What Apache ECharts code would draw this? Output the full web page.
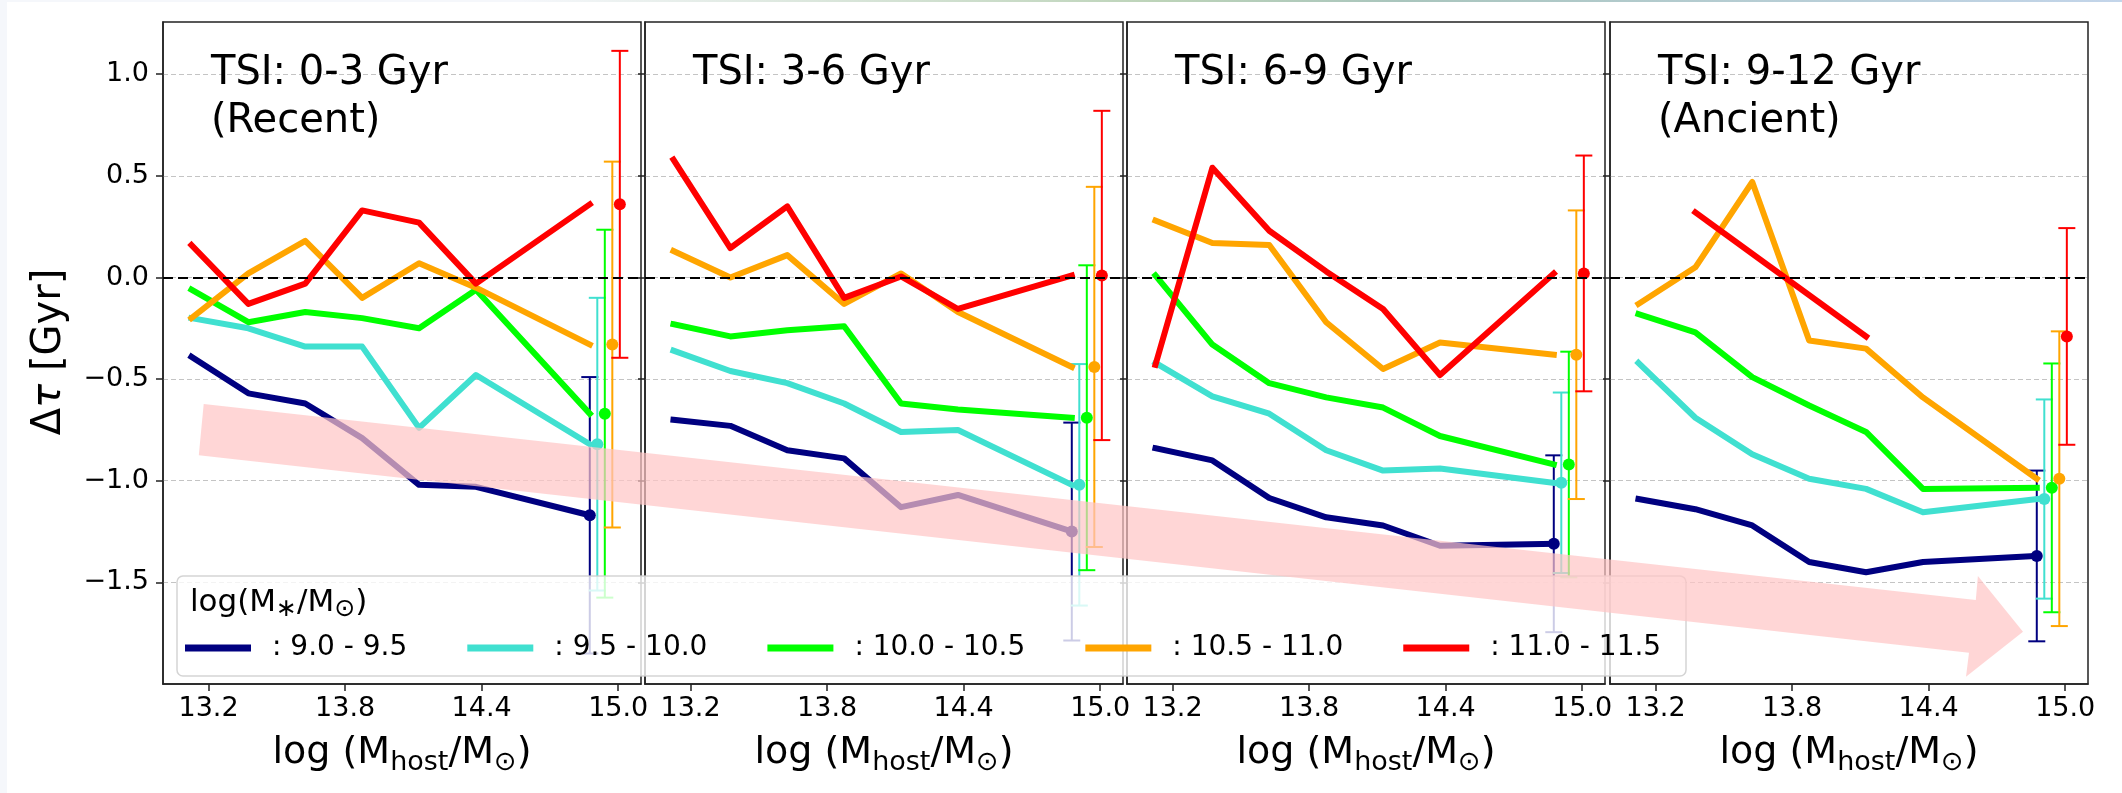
<!DOCTYPE html>
<html>
<head>
<meta charset="utf-8">
<script src="https://cdn.jsdelivr.net/npm/echarts@6/dist/echarts.min.js"></script>
<style>
  html, body { margin: 0; padding: 0; background: #f5f7fb; }
  #page { position: absolute; left: 7px; top: 2px; width: 2115px; height: 791px; background: #ffffff; }
  #topline { position: absolute; left: 520px; top: 0; width: 1602px; height: 2px;
    background: linear-gradient(to right, rgba(245,247,251,0), #bcd3b8 40%, #a9c5bd 55%, #c3d5ea 100%); }
  #chart { position: absolute; left: 0; top: 0; width: 2122px; height: 793px; }
</style>
</head>
<body>
<div id="page"></div>
<div id="topline"></div>
<div id="chart"></div>
<script>
// Host halo mass bin centres, log(M_host / M_sun)
const massBins = [13.125, 13.375, 13.625, 13.875, 14.125, 14.375, 14.875];
// Stellar mass bins (legend entries) and their colours
const stellarBins = [': 9.0 - 9.5', ': 9.5 - 10.0', ': 10.0 - 10.5', ': 10.5 - 11.0', ': 11.0 - 11.5'];
const binColors = ['#000080', '#40E0D0', '#00FF00', '#FFA500', '#FF0000'];
// Positions of the summary points with error bars (one per stellar bin)
const errX = [14.875, 14.908, 14.941, 14.974, 15.007];
// Tick values
const xTicks = [13.2, 13.8, 14.4, 15.0];
const yTicks = [-1.5, -1.0, -0.5, 0.0, 0.5, 1.0];
// Panel titles
const panelTitles = [['TSI: 0-3 Gyr', '(Recent)'], ['TSI: 3-6 Gyr'], ['TSI: 6-9 Gyr'], ['TSI: 9-12 Gyr', '(Ancient)']];

// Delta tau [Gyr] per stellar bin (rows) and host mass bin (columns)
const dtauRecent = [
  [-0.39, -0.57, -0.62, -0.79, -1.02, -1.03, -1.17],
  [-0.20, -0.25, -0.34, -0.34, -0.74, -0.48, -0.82],
  [-0.06, -0.22, -0.17, -0.20, -0.25, -0.06, -0.67],
  [-0.20, 0.02, 0.18, -0.10, 0.07, -0.05, -0.33],
  [0.16, -0.13, -0.03, 0.33, 0.27, -0.03, 0.36]
];
const dtauMid1 = [
  [-0.70, -0.73, -0.85, -0.89, -1.13, -1.07, -1.25],
  [-0.36, -0.46, -0.52, -0.62, -0.76, -0.75, -1.02],
  [-0.23, -0.29, -0.26, -0.24, -0.62, -0.65, -0.69],
  [0.13, 0.00, 0.11, -0.13, 0.02, -0.17, -0.44],
  [0.58, 0.145, 0.35, -0.10, 0.005, -0.155, 0.01]
];
const dtauMid2 = [
  [-0.84, -0.90, -1.085, -1.18, -1.22, -1.32, -1.31],
  [-0.42, -0.585, -0.67, -0.85, -0.95, -0.94, -1.01],
  [0.01, -0.33, -0.52, -0.59, -0.64, -0.78, -0.92],
  [0.28, 0.17, 0.16, -0.22, -0.45, -0.32, -0.38],
  [-0.43, 0.54, 0.23, 0.03, -0.155, -0.48, 0.02]
];
const dtauAncient = [
  [-1.09, -1.14, -1.22, -1.40, -1.45, -1.40, -1.37],
  [-0.42, -0.69, -0.87, -0.99, -1.04, -1.155, -1.09],
  [-0.18, -0.27, -0.49, -0.63, -0.76, -1.04, -1.035],
  [-0.13, 0.05, 0.47, -0.31, -0.35, -0.59, -0.99],
  [null, 0.32, null, null, -0.29, null, null]
];
// Half-widths of the error bars per stellar bin
const errRecent = [0.68, 0.72, 0.905, 0.90, 0.755];
const errMid1 = [0.536, 0.594, 0.75, 0.886, 0.81];
const errMid2 = [0.435, 0.444, 0.555, 0.71, 0.58];
const errAncient = [0.42, 0.49, 0.612, 0.725, 0.533];

const panelValues = [dtauRecent, dtauMid1, dtauMid2, dtauAncient];
const panelErrors = [errRecent, errMid1, errMid2, errAncient];

const FONT = 'DejaVu Sans';
const panelLeft = [163, 645, 1127, 1610];
const panelWidth = 478, panelTop = 22, panelHeight = 662;

const fmtY = v => (v < 0 ? '\u2212' : '') + Math.abs(v).toFixed(1);

function errorBarItem(params, api) {
  const x = api.value(0), y = api.value(1), e = api.value(2);
  const c = api.coord([x, y]);
  const top = api.coord([x, y + e]);
  const bot = api.coord([x, y - e]);
  const color = api.visual('color');
  const hw = 8.5;
  const st = { stroke: color, lineWidth: 2 };
  return {
    type: 'group',
    children: [
      { type: 'line', shape: { x1: c[0], y1: top[1], x2: c[0], y2: bot[1] }, style: st },
      { type: 'line', shape: { x1: c[0] - hw, y1: top[1], x2: c[0] + hw, y2: top[1] }, style: st },
      { type: 'line', shape: { x1: c[0] - hw, y1: bot[1], x2: c[0] + hw, y2: bot[1] }, style: st },
      { type: 'circle', shape: { cx: c[0], cy: c[1], r: 6 }, style: { fill: color } }
    ]
  };
}

const grids = [], xAxes = [], yAxes = [], series = [], graphics = [];

panelLeft.forEach((left, p) => {
  grids.push({ left: left, top: panelTop, width: panelWidth, height: panelHeight,
    show: true, borderColor: '#222', borderWidth: 1.5 });
  xAxes.push({
    type: 'value', gridIndex: p, min: 13.0, max: 15.1,
    axisLine: { show: true, onZero: false, lineStyle: { color: '#222', width: 1.5 } },
    splitLine: { show: false },
    axisTick: { show: true, customValues: xTicks, length: 7, lineStyle: { color: '#222', width: 1.5 } },
    axisLabel: { customValues: xTicks, formatter: v => v.toFixed(1), fontSize: 27,
      fontFamily: FONT, color: '#000', margin: 11 }
  });
  yAxes.push({
    type: 'value', gridIndex: p, min: -2.0, max: 1.257, interval: 0.5,
    axisLine: { show: true, onZero: false, lineStyle: { color: '#222', width: 1.5 } },
    axisTick: { show: true, customValues: yTicks, length: 7, lineStyle: { color: '#222', width: 1.5 } },
    axisLabel: { show: p === 0, customValues: yTicks, formatter: fmtY, fontSize: 27,
      fontFamily: FONT, color: '#000', margin: 14 },
    splitLine: { show: true, lineStyle: { color: '#c4c4c4', type: [5, 3], width: 1 } }
  });

  // zero reference line
  series.push({
    type: 'line', xAxisIndex: p, yAxisIndex: p, data: [], z: 1, silent: true,
    markLine: { silent: true, symbol: 'none', label: { show: false }, animation: false,
      lineStyle: { color: '#000', type: [10, 5], width: 2.2 }, data: [{ yAxis: 0 }] }
  });

  const vals = panelValues[p];
  const errs = panelErrors[p];
  stellarBins.forEach((name, k) => {
    const pts = [];
    massBins.forEach((x, i) => { if (vals[k][i] !== null) pts.push([x, vals[k][i]]); });
    series.push({
      type: 'line', name: name, xAxisIndex: p, yAxisIndex: p, data: pts,
      showSymbol: false, symbol: 'none', connectNulls: true, z: 3,
      itemStyle: { color: binColors[k] },
      lineStyle: { color: binColors[k], width: 6, cap: 'square', join: 'round' }
    });
    const last = pts[pts.length - 1][1];
    series.push({
      type: 'custom', name: name, xAxisIndex: p, yAxisIndex: p, z: 3,
      itemStyle: { color: binColors[k] },
      data: [[errX[k], last, errs[k]]],
      encode: { x: 0, y: 1 },
      renderItem: errorBarItem
    });
  });

  // panel title
  panelTitles[p].forEach((t, j) => {
    graphics.push({ type: 'text', x: left + 48, y: 74 + j * 47.3, z: 40,
      style: { text: t, font: '40px "' + FONT + '"', fill: '#000', align: 'left', verticalAlign: 'middle' } });
  });
  // x-axis title
  graphics.push({ type: 'text', x: left + panelWidth / 2, y: 753.6, z: 40,
    style: {
      text: 'log (M{s|host}/M{s|\u2299})',
      fontFamily: FONT, fontSize: 38, lineHeight: 46, fill: '#000',
      align: 'center', verticalAlign: 'middle',
      rich: { s: { fontFamily: FONT, fontSize: 27, lineHeight: 27, verticalAlign: 'bottom', fill: '#000' } }
    } });
});

// y-axis title
graphics.push({ type: 'text', x: 50, y: 352, rotation: Math.PI / 2, z: 40,
  style: {
    text: '\u0394{i|\u03c4} [Gyr]', fontFamily: FONT, fontSize: 40, fill: '#000',
    align: 'center', verticalAlign: 'middle',
    rich: { i: { fontFamily: FONT, fontSize: 40, fontStyle: 'italic', fill: '#000' } }
  } });

// legend frame and title
graphics.push({ type: 'rect', z: 50,
  shape: { x: 177, y: 576, width: 1509, height: 100, r: 6 },
  style: { fill: 'rgba(255,255,255,0.8)', stroke: 'rgba(204,204,204,0.85)', lineWidth: 1.5 } });
graphics.push({ type: 'text', x: 190, y: 603, z: 55,
  style: {
    text: 'log(M{s|\u2217}/M{s|\u2299})', fontFamily: FONT, fontSize: 31, lineHeight: 38, fill: '#000',
    align: 'left', verticalAlign: 'middle',
    rich: { s: { fontFamily: FONT, fontSize: 25, lineHeight: 25, verticalAlign: 'bottom', fill: '#000' } }
  } });

// translucent trend arrow drawn over everything
graphics.push({ type: 'polygon', z: 100,
  shape: { points: [[203.7, 404], [1975.8, 600], [1977.9, 576], [2023, 631.7],
    [1966, 676.7], [1969, 652.7], [198.8, 455.3]] },
  style: { fill: 'rgba(255,197,197,0.71)' } });

const chart = echarts.init(document.getElementById('chart'), null, { renderer: 'canvas' });
chart.setOption({
  animation: false,
  grid: grids,
  xAxis: xAxes,
  yAxis: yAxes,
  legend: {
    data: stellarBins, left: 185, top: 631, padding: 0, orient: 'horizontal',
    icon: 'rect', itemWidth: 66, itemHeight: 7, itemGap: 60, selectedMode: false, z: 60,
    itemStyle: { borderWidth: 0 },
    textStyle: { fontFamily: FONT, fontSize: 28, color: '#000', lineHeight: 34, padding: [0, 0, 0, 16] }
  },
  graphic: graphics,
  series: series
});
</script>
</body>
</html>
